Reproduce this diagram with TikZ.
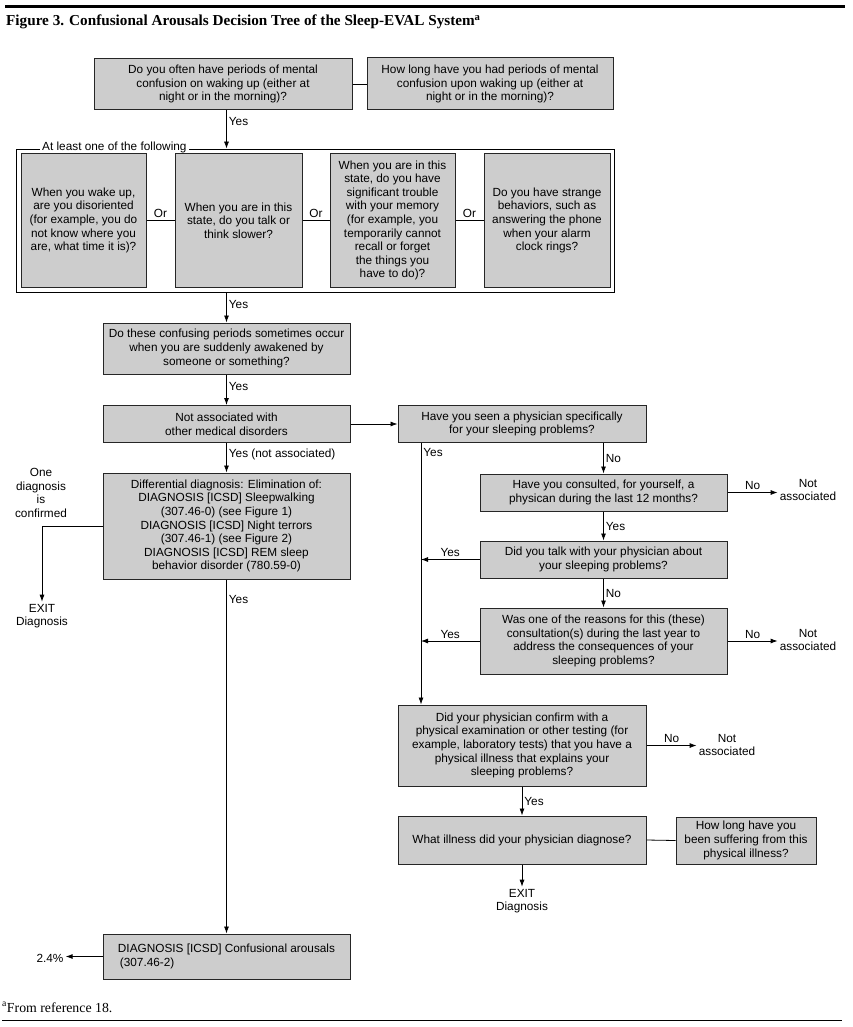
\documentclass[tikz,border=0pt]{standalone}
\usepackage{fontspec}
\setmainfont{Liberation Serif}
\setsansfont{Liberation Sans}
\usetikzlibrary{arrows.meta}
\definecolor{boxgray}{RGB}{205,205,205}
\begin{document}
\begin{tikzpicture}[x=1pt,y=-1pt,
	box/.style={draw=black!85, line width=1pt, fill=boxgray, align=center, inner sep=0pt, font=\sffamily\fontsize{11.8}{13.6}\selectfont},
	lbl/.style={align=center, inner sep=2pt, font=\sffamily\fontsize{11.8}{13.6}\selectfont},
	arr/.style={-{Latex[length=7pt,width=5pt]}, line width=0.8pt},
	ln/.style={line width=0.8pt}]
	\useasboundingbox (0,0) rectangle (852,1027);
	\draw[line width=3pt] (5,6.5) -- (845,6.5);
	\node[anchor=base west, inner sep=0pt, font=\bfseries\fontsize{15.2}{18}\selectfont] (title) at (6,26) {Figure 3. Confusional Arousals Decision Tree of the Sleep-EVAL System\textsuperscript{a}};
	
	\node[box, minimum width=258, minimum height=51] (often) at (223,84) {Do you often have periods of mental\\confusion on waking up (either at\\night or in the morning)?};
	\node[box, minimum width=246, minimum height=52] (howlong) at (490,84) {How long have you had periods of mental\\confusion upon waking up (either at\\night or in the morning)?};
	\draw[ln] (often.east) -- (howlong.west);
	
	% at least one of the following
	\node[draw, line width=0.8pt, minimum width=598, minimum height=143, inner sep=0pt] (group) at (315,220.5) {};
	\node[lbl, fill=white, anchor=base west] (least) at (40,151) {At least one of the following};
	\node[box, minimum width=125, minimum height=133] (wake) at (83.5,220.5) {When you wake up,\\are you disoriented\\(for example, you do\\not know where you\\are, what time it is)?};
	\node[box, minimum width=127, minimum height=133] (slower) at (238.5,220.5) {When you are in this\\state, do you talk or\\think slower?};
	\node[box, minimum width=125, minimum height=133] (memory) at (392.5,220.5) {When you are in this\\state, do you have\\significant trouble\\with your memory\\(for example, you\\temporarily cannot\\recall or forget\\the things you\\have to do)?};
	\node[box, minimum width=126, minimum height=133] (strange) at (547,220.5) {Do you have strange\\behaviors, such as\\answering the phone\\when your alarm\\clock rings?};
	\draw[ln] (wake.east) -- (slower.west) node[lbl, midway, above] {Or};
	\draw[ln] (slower.east) -- (memory.west) node[lbl, midway, above] {Or};
	\draw[ln] (memory.east) -- (strange.west) node[lbl, midway, above] {Or};
	
	\node[box, minimum width=247, minimum height=51] (sudden) at (226.5,348.5) {Do these confusing periods sometimes occur\\when you are suddenly awakened by\\someone or something?};
	\node[box, minimum width=247, minimum height=37] (nomed) at (226.5,424) {Not associated with\\other medical disorders};
	\node[box, minimum width=247, minimum height=106] (elim) at (226.5,526) {Differential diagnosis: Elimination of:\\DIAGNOSIS [ICSD] Sleepwalking\\(307.46-0) (see Figure 1)\\DIAGNOSIS [ICSD] Night terrors\\(307.46-1) (see Figure 2)\\DIAGNOSIS [ICSD] REM sleep\\behavior disorder (780.59-0)};
	\node[box, minimum width=247, minimum height=45, align=left] (final) at (226.5,956.5) {DIAGNOSIS [ICSD] Confusional arousals\\\,(307.46-2)};
	
	\draw[arr] (often.south -| sudden.north) -- (group.north -| sudden.north) node[lbl, right, pos=0.3] {Yes};
	\draw[arr] (group.south -| sudden.north) -- (sudden.north) node[lbl, right, pos=0.4] {Yes};
	\draw[arr] (sudden.south) -- (nomed.north) node[lbl, right, pos=0.4] {Yes};
	\draw[arr] (nomed.south) -- (elim.north) node[lbl, right, pos=0.4] {Yes (not associated)};
	\draw[arr] (elim.south) -- (final.north) node[lbl, right, pos=0.057] {Yes};
	
	\node[lbl] (onediag) at (41,493) {One\\diagnosis\\is\\confirmed};
	\node[lbl] (exitA) at (42,616) {EXIT\\Diagnosis};
	\draw[arr] (elim.west) -| (exitA.north);
	\node[lbl] (pct) at (50,958) {2.4\%};
	\draw[arr] (final.west) -- (final.west -| pct.east);
	
	% physician branch
	\coordinate (yesx) at (421,0);
	\node[box, minimum width=248, minimum height=37] (seen) at (522,424) {Have you seen a physician specifically\\for your sleeping problems?};
	\node[box, minimum width=247, minimum height=37] (consult) at (603.5,492.5) {Have you consulted, for yourself, a\\physican during the last 12 months?};
	\node[box, minimum width=247, minimum height=37] (talk) at (603.5,559.5) {Did you talk with your physician about\\your sleeping problems?};
	\node[box, minimum width=247, minimum height=66] (reason) at (603.5,641) {Was one of the reasons for this (these)\\consultation(s) during the last year to\\address the consequences of your\\sleeping problems?};
	\node[box, minimum width=248, minimum height=81] (exam) at (522,745.5) {Did your physician confirm with a\\physical examination or other testing (for\\example, laboratory tests) that you have a\\physical illness that explains your\\sleeping problems?};
	\node[box, minimum width=248, minimum height=48] (illness) at (522,840) {What illness did your physician diagnose?};
	\node[box, minimum width=140, minimum height=47] (suffer) at (746,840.5) {How long have you\\been suffering from this\\physical illness?};
	\node[lbl] (na1) at (808,490) {Not\\associated};
	\node[lbl] (na2) at (808,640) {Not\\associated};
	\node[lbl] (na3) at (727,745) {Not\\associated};
	\node[lbl] (exitB) at (522,901) {EXIT\\Diagnosis};
	
	\draw[arr] (nomed.east) -- (seen.west);
	\draw[arr] (seen.south -| yesx) -- (exam.north -| yesx) node[lbl, right, pos=0.035] {Yes};
	\draw[arr] (seen.south -| consult.north) -- (consult.north) node[lbl, right, midway] {No};
	\draw[arr] (consult.east) -- (consult.east -| na1.west) node[lbl, above, midway] {No};
	\draw[arr] (consult.south) -- (talk.north) node[lbl, right, midway] {Yes};
	\draw[arr] (talk.west) -- (talk.west -| yesx) node[lbl, above, midway] {Yes};
	\draw[arr] (talk.south) -- (reason.north) node[lbl, right, midway] {No};
	\draw[arr] (reason.west) -- (reason.west -| yesx) node[lbl, above, midway] {Yes};
	\draw[arr] (reason.east) -- (reason.east -| na2.west) node[lbl, above, midway] {No};
	\draw[arr] (exam.east) -- (exam.east -| na3.west) node[lbl, above, midway] {No};
	\draw[arr] (exam.south) -- (illness.north) node[lbl, right, midway] {Yes};
	\draw[ln] (illness.east) -- (suffer.west);
	\draw[arr] (illness.south) -- (exitB.north);
	
	\node[anchor=base west, inner sep=0pt, font=\fontsize{13.8}{16}\selectfont] (note) at (2,1012) {\textsuperscript{a}From reference 18.};
	\draw[line width=1pt] (2,1020) -- (842,1020);
\end{tikzpicture}
\end{document}
